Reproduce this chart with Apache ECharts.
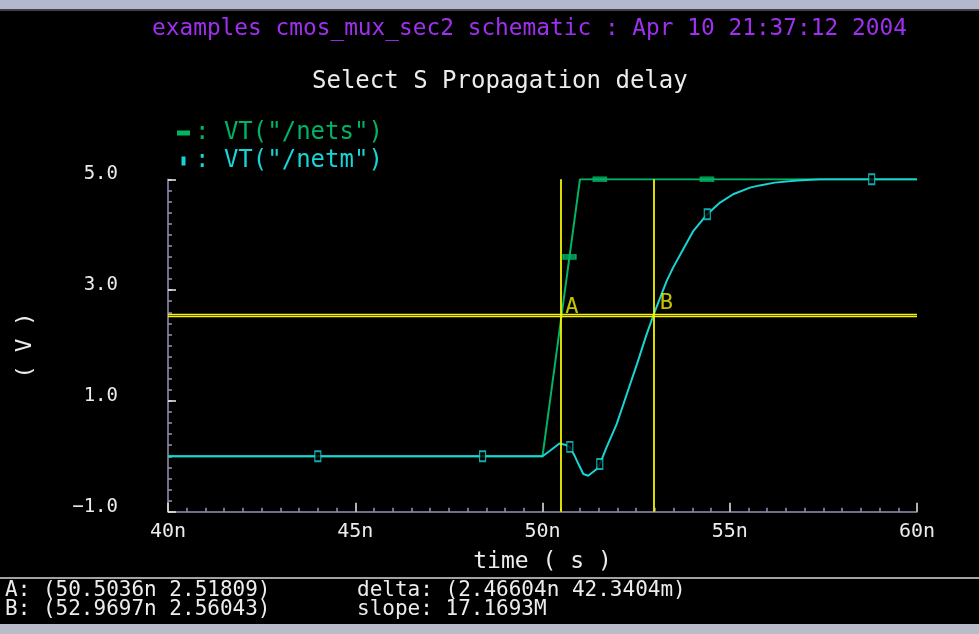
<!DOCTYPE html>
<html>
<head>
<meta charset="utf-8">
<script src="https://cdn.jsdelivr.net/npm/echarts@6/dist/echarts.min.js"></script>
<style>
html,body{margin:0;padding:0;background:#000;}
#chart{width:979px;height:634px;}
</style>
</head>
<body>
<div id="chart"></div>
<script>
// ---- data ----
const netsName = 'VT("/nets")';
const netmName = 'VT("/netm")';
// time in ns, voltage in V
const netsData = [[40,0],[50.0,0],[51.0,5],[60,5]];
const netsMarkers = [[50.72,3.6],[51.53,5],[54.39,5]];
const netmData = [
  [40,0],[44,0],[48.4,0],[50.0,0],[50.2,0.1],[50.45,0.23],[50.6,0.21],[50.73,0.17],
  [50.85,0.02],[50.96,-0.14],[51.09,-0.32],[51.22,-0.35],[51.45,-0.23],[51.53,-0.14],
  [51.71,0.16],[51.98,0.58],[52.25,1.12],[52.52,1.66],[52.78,2.2],[52.97,2.56],
  [53.14,2.86],[53.32,3.17],[53.49,3.41],[53.76,3.74],[54.03,4.07],[54.4,4.37],
  [54.74,4.58],[55.09,4.73],[55.54,4.85],[55.8,4.89],[56.2,4.94],[56.8,4.98],
  [57.4,5.0],[58.79,5.0],[60,5.0]
];
const netmMarkers = [[44,0],[48.4,0],[50.73,0.17],[51.53,-0.14],[54.4,4.37],[58.79,5.0]];
const cursorA = [50.5036, 2.51809];
const cursorB = [52.9697, 2.56043];
const cursorNames = ['A','B'];
const xTicks = [40,45,50,55,60];
const xTickLabels = ['40n','45n','50n','55n','60n'];
const yTicks = [-1,1,3,5];
const yTickLabels = ['\u22121.0','1.0','3.0','5.0'];
const titleText = 'examples cmos_mux_sec2 schematic : Apr 10 21:37:12 2004';
const subTitleText = 'Select S Propagation delay';
const readoutA = 'A: (50.5036n 2.51809)';
const readoutB = 'B: (52.9697n 2.56043)';
const readoutDelta = 'delta: (2.46604n 42.3404m)';
const readoutSlope = 'slope: 17.1693M';

// ---- styling ----
const MONO = 'DejaVu Sans Mono';
const GREEN = '#00b464';
const CYAN = '#18d4d4';
const YELLOW = '#f4f400';
const AXIS = '#9494b8';
const WHITE = '#ececec';

function lookup(ticks, labels, v){
  for (let i=0;i<ticks.length;i++){ if (Math.abs(ticks[i]-v) < 1e-6) return labels[i]; }
  return '';
}

const chart = echarts.init(document.getElementById('chart'), null, {renderer:'canvas'});
const vLine = {color:YELLOW, width:1.8, type:'solid'};
const hLine = {color:YELLOW, width:1.3, type:'solid'};
const option = {
  backgroundColor: '#000',
  animation: false,
  title: [
    {text: titleText, left: 147, top: 13,
     textStyle:{color:'#a030f0', fontFamily:MONO, fontSize:22.8, fontWeight:'normal'}},
    {text: subTitleText, left: 307, top: 65,
     textStyle:{color:WHITE, fontFamily:MONO, fontSize:24, fontWeight:'normal'}}
  ],
  legend: {
    orient:'vertical', left:172, top:116, itemWidth:13, itemHeight:9, itemGap:4,
    selectedMode:false,
    formatter: n => ': ' + n,
    textStyle:{fontFamily:MONO, fontSize:24},
    data:[
      {name:netsName, icon:'path://M0,2H13V7H0Z', textStyle:{color:GREEN}},
      {name:netmName, icon:'path://M5,0H9V9H5Z', textStyle:{color:CYAN}}
    ]
  },
  grid: {left:168, right:62, top:179.3, bottom:122.3, containLabel:false, outerBoundsMode:'none'},
  xAxis: {
    type:'value', min:40, max:60, interval:5,
    name:'time ( s )', nameLocation:'middle', nameGap:39,
    nameTextStyle:{color:WHITE, fontFamily:MONO, fontSize:23},
    axisLine:{show:true, onZero:false, lineStyle:{color:AXIS, width:1.5}},
    axisTick:{show:true, inside:true, length:9, lineStyle:{color:WHITE, width:1.5}},
    minorTick:{show:true, splitNumber:10, length:4, lineStyle:{color:AXIS, width:1.5}},
    splitLine:{show:false},
    axisLabel:{color:WHITE, fontFamily:MONO, fontSize:20, margin:10,
      formatter: v => lookup(xTicks, xTickLabels, v)}
  },
  yAxis: [
    {
      type:'value', min:-1, max:5, interval:0.2,
      name:'( V )', nameLocation:'middle', nameGap:132,
      nameTextStyle:{color:WHITE, fontFamily:MONO, fontSize:22},
      axisLine:{show:true, onZero:false, lineStyle:{color:AXIS, width:1.5}},
      axisTick:{show:true, inside:true, length:4, lineStyle:{color:AXIS, width:1.5}},
      splitLine:{show:false},
      axisLabel:{color:WHITE, fontFamily:MONO, fontSize:19, margin:50,
        customValues: yTicks, verticalAlign:'bottom', lineHeight:10,
        formatter: v => lookup(yTicks, yTickLabels, v)}
    },
    {
      type:'value', min:-1, max:5, position:'left',
      axisLine:{show:false},
      axisTick:{show:true, inside:true, length:8, customValues: yTicks,
        lineStyle:{color:WHITE, width:1.5}},
      axisLabel:{show:false},
      splitLine:{show:false}
    }
  ],
  series: [
    {name:netsName, type:'line', data:netsData, showSymbol:false, symbol:'none',
     color:GREEN, lineStyle:{color:GREEN, width:2}, silent:true, z:2},
    {name:'netsMarkers', type:'scatter', data:netsMarkers, symbol:'rect', symbolSize:[13,5],
     itemStyle:{color:GREEN, borderColor:GREEN}, silent:true, z:3},
    {name:netmName, type:'line', data:netmData, showSymbol:false, symbol:'none',
     color:CYAN, lineStyle:{color:CYAN, width:2}, silent:true, z:4},
    {name:'netmMarkers', type:'scatter', data:netmMarkers, symbol:'rect', symbolSize:[6,10],
     itemStyle:{color:'#000', borderColor:CYAN, borderWidth:1.5}, silent:true, z:5},
    {name:'cursors', type:'scatter', silent:true, z:6,
     data:[
       {value:cursorA, name:cursorNames[0], label:{position:[4,-20]}},
       {value:cursorB, name:cursorNames[1], label:{position:[6,-22]}}
     ],
     symbol:'circle', symbolSize:0.1, itemStyle:{color:YELLOW},
     label:{show:true, formatter:'{b}', color:YELLOW, fontFamily:MONO, fontSize:22},
     markLine:{silent:true, symbol:'none', label:{show:false},
       lineStyle:vLine,
       data:[
         {xAxis:cursorA[0], lineStyle:vLine},{xAxis:cursorB[0], lineStyle:vLine},
         {yAxis:cursorA[1], lineStyle:hLine},{yAxis:cursorB[1], lineStyle:hLine}
       ]}
    }
  ],
  graphic: [
    {type:'rect', left:0, top:0, shape:{width:979, height:9}, style:{fill:'#b4b8cc'}, silent:true},
    {type:'rect', left:0, top:9, shape:{width:979, height:2}, style:{fill:'#404048'}, silent:true},
    {type:'line', shape:{x1:0, y1:578, x2:979, y2:578}, style:{stroke:'#d8d8d8', lineWidth:1.5}, silent:true},
    {type:'rect', left:0, top:624, shape:{width:979, height:10}, style:{fill:'#b8bcc8'}, silent:true},
    {type:'text', left:5, top:580, style:{text:readoutA, fill:WHITE, font:'21px "DejaVu Sans Mono"'}, silent:true},
    {type:'text', left:5, top:599, style:{text:readoutB, fill:WHITE, font:'21px "DejaVu Sans Mono"'}, silent:true},
    {type:'text', left:357, top:580, style:{text:readoutDelta, fill:WHITE, font:'21px "DejaVu Sans Mono"'}, silent:true},
    {type:'text', left:357, top:599, style:{text:readoutSlope, fill:WHITE, font:'21px "DejaVu Sans Mono"'}, silent:true}
  ]
};
chart.setOption(option);
</script>
</body>
</html>
